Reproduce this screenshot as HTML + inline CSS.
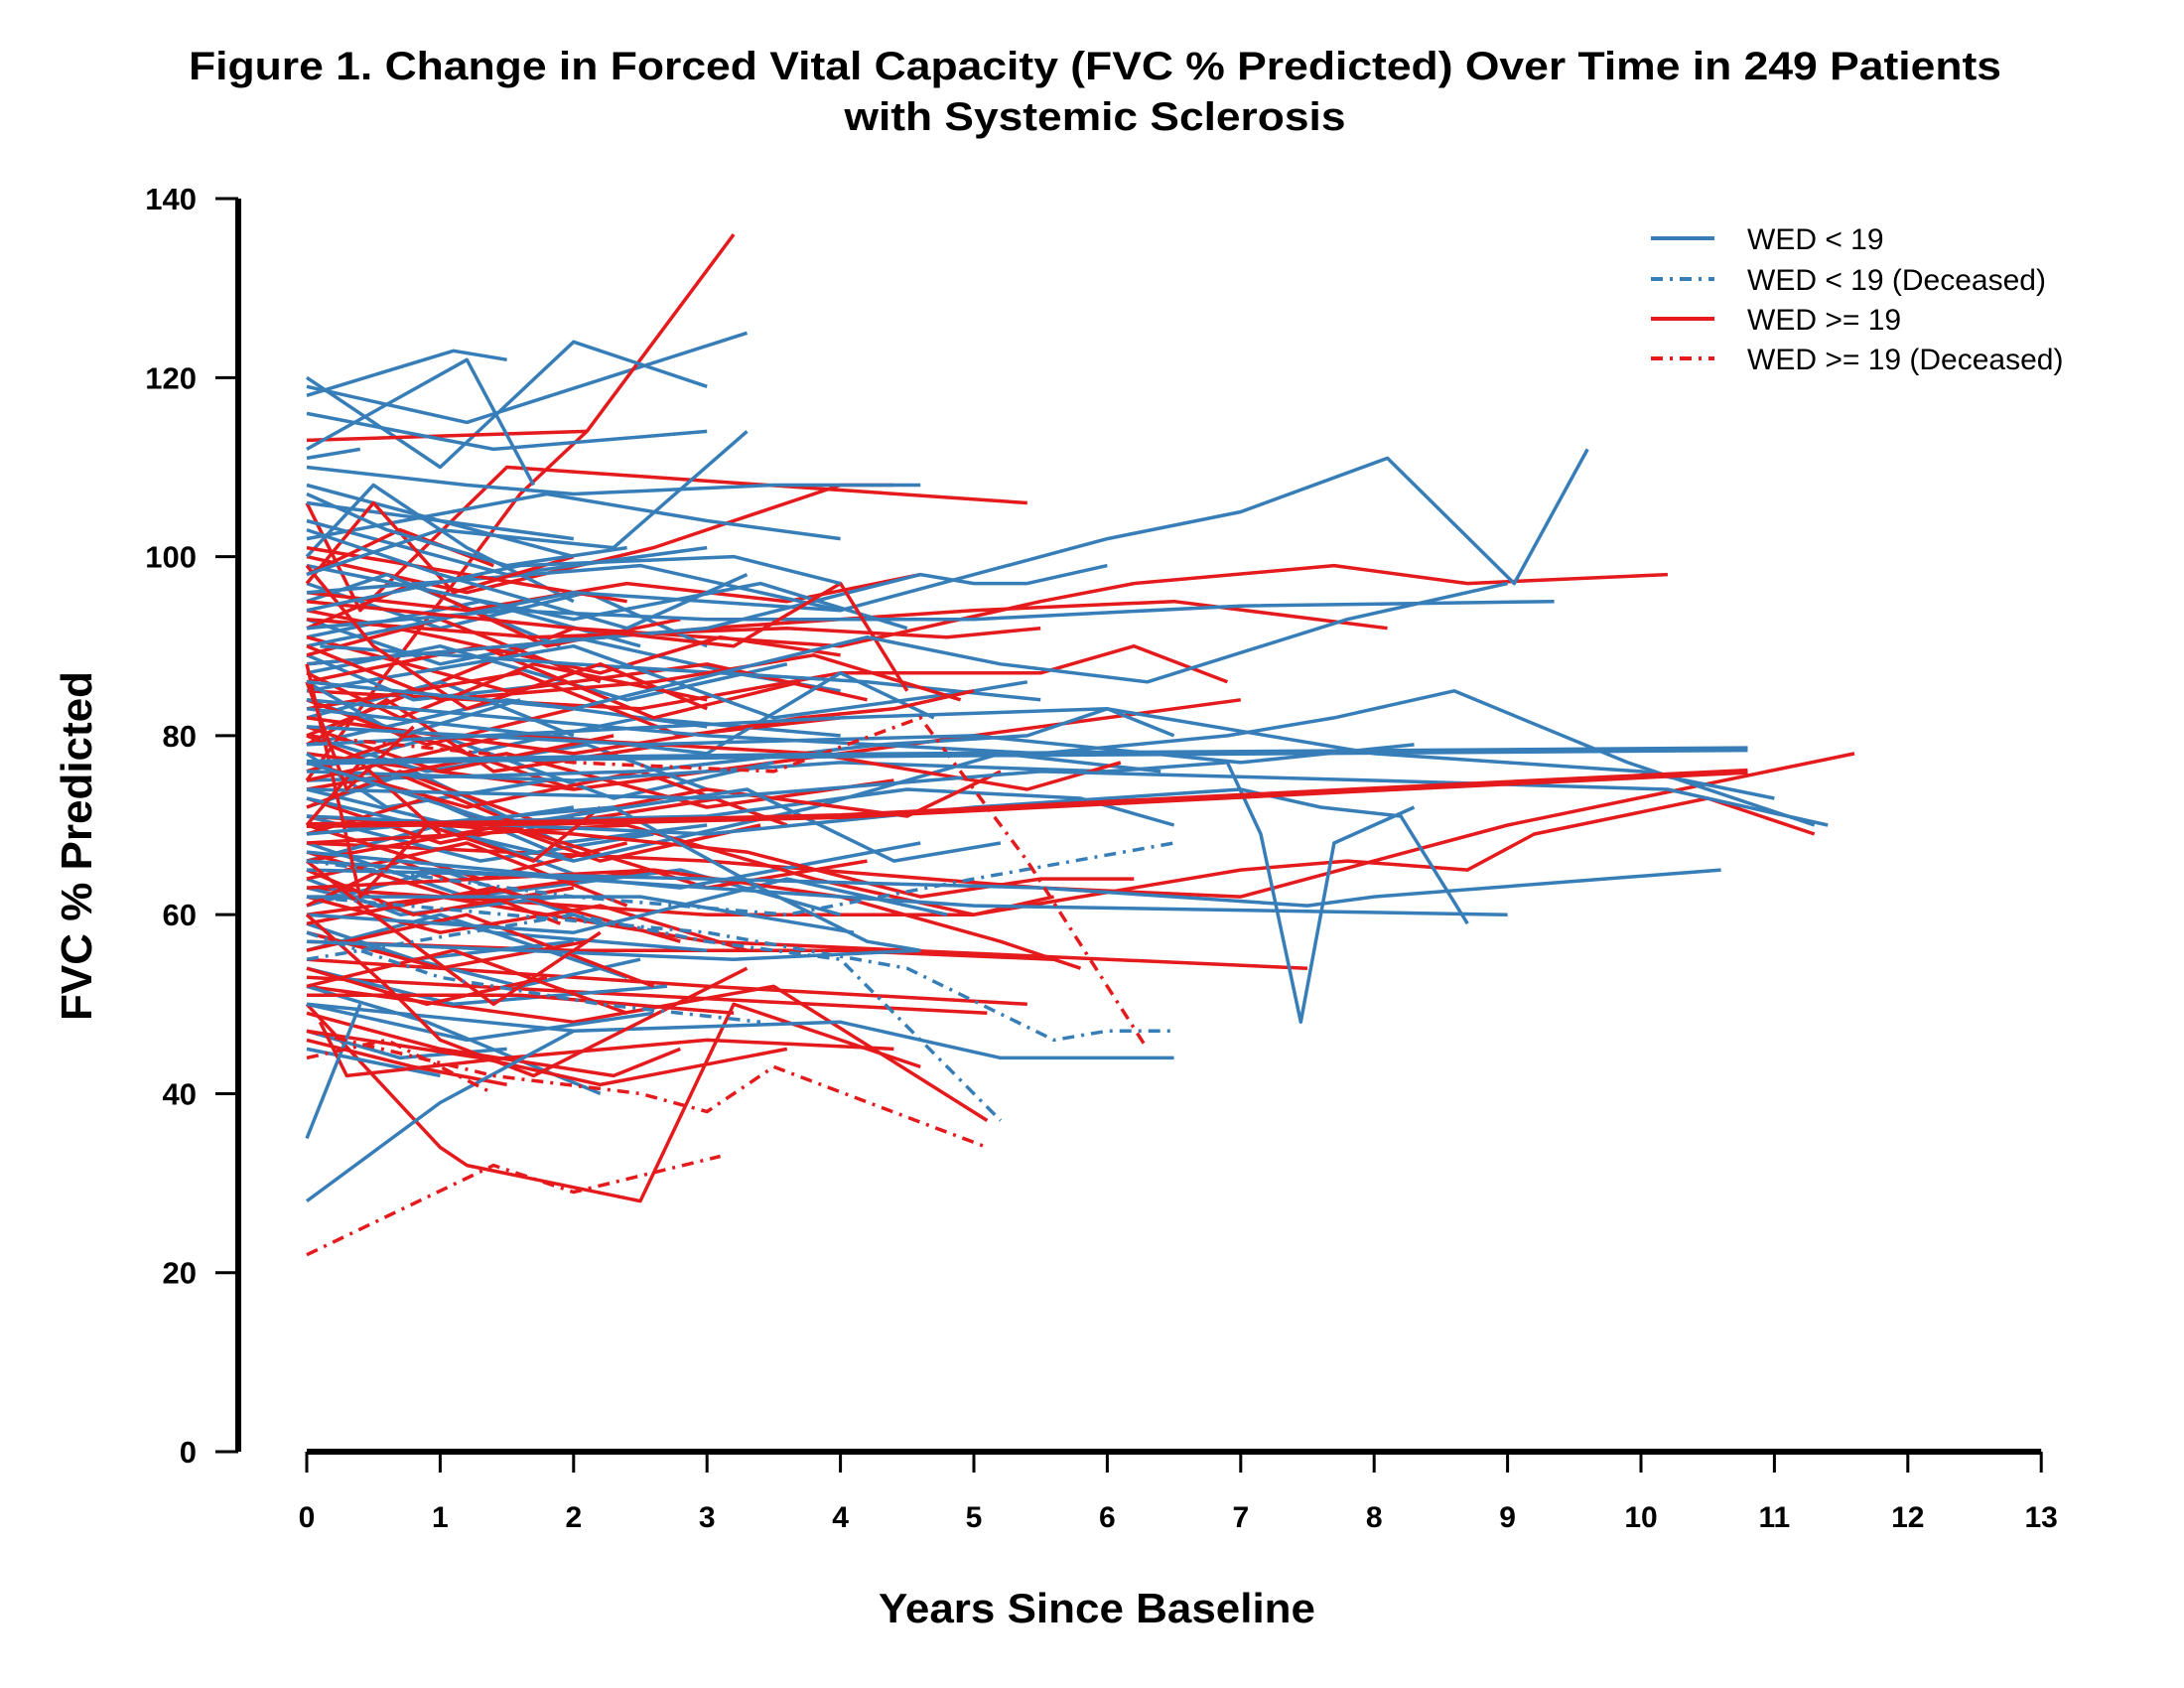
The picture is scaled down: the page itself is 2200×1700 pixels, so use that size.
<!DOCTYPE html>
<html><head><meta charset="utf-8"><style>
html,body{margin:0;padding:0;background:#fff;}
svg{display:block;font-family:"Liberation Sans",Arial,sans-serif;}
</style></head><body>
<svg id="chart" width="2200" height="1700" viewBox="0 0 2200 1700" xmlns="http://www.w3.org/2000/svg">
<rect width="2200" height="1700" fill="#fff"/>
<g font-weight="bold" font-size="40" text-anchor="middle" fill="#000">
<text x="1103" y="80" textLength="1826" lengthAdjust="spacingAndGlyphs">Figure 1. Change in Forced Vital Capacity (FVC % Predicted) Over Time in 249 Patients</text>
<text x="1103" y="131" textLength="505" lengthAdjust="spacingAndGlyphs">with Systemic Sclerosis</text>
</g>
<g id="plot"></g>
<g id="axes"></g>
<text transform="translate(92,852) rotate(-90)" text-anchor="middle" font-weight="bold" font-size="44" textLength="352" lengthAdjust="spacingAndGlyphs">FVC % Predicted</text>
<text x="1105" y="1634" text-anchor="middle" font-weight="bold" font-size="42" textLength="440" lengthAdjust="spacingAndGlyphs">Years Since Baseline</text>
<g font-size="30" fill="#000">
<g><line x1="1663" y1="240" x2="1727" y2="240" stroke="#377eb8" stroke-width="4"/><text x="1760" y="251">WED &lt; 19</text></g>
<g><line x1="1663" y1="281" x2="1727" y2="281" stroke="#377eb8" stroke-width="4" stroke-dasharray="12 7 3 7"/><text x="1760" y="292">WED &lt; 19 (Deceased)</text></g>
<g><line x1="1663" y1="321" x2="1727" y2="321" stroke="#e41a1c" stroke-width="4"/><text x="1760" y="332">WED &gt;= 19</text></g>
<g><line x1="1663" y1="361" x2="1727" y2="361" stroke="#e41a1c" stroke-width="4" stroke-dasharray="12 7 3 7"/><text x="1760" y="372">WED &gt;= 19 (Deceased)</text></g>
</g>
</svg>
<script>
const xTicks=[0,1,2,3,4,5,6,7,8,9,10,11,12,13];
const yTicks=[0,20,40,60,80,100,120,140];
// each series: flat [t,v,t,v,...]
const blueSeries=[
[0,119,1.2,115,3.3,125],[0,120,1,110,2,124,3,119],[0,111,0.4,112],[0,118,1.1,123,1.5,122],[0,112,1.2,122,1.7,108],
[0,106,1,104,2,100],[0,104,1.5,98,3,101],[0,100,0.5,108,1.2,101,2,95],[0,97,1,92,2.1,96,3,90],[0,95,0.6,98,1.9,90],
[0,93,1,88,2,91,3.2,87,4,85],[0,91,1.3,95,2.5,90],[0,89,0.8,84,2,86],[0,87,1,90,2.4,84,3.6,88],[0,86,0.7,80,1.6,84],
[0,84,1.2,78,2.5,82,4,80],[0,82,1,86,2,80],[0,80,0.9,76,2.1,79,3,74],[0,79,1.5,84,3,81],[0,78,0.6,72,1.8,75],
[0,76,1,80,2.3,73,3.5,77],[0,74,1.1,70,2,72],[0,72,0.8,76,1.9,68,3,70],[0,71,1.3,66,2.6,69],[0,69,0.9,73,2,66],
[0,68,1.2,62,2.8,65,4,60],[0,66,1,70,2.1,64],[0,64,0.7,60,1.9,62],[0,63,1.4,58,3,56],[0,61,1,65,2.2,59],
[0,59,0.8,55,2,57],[0,58,1.6,52,2.5,55],[0,56,1,60,2.4,53],[0,54,1.1,50,2.7,52],[0,52,0.9,48,2.2,40],
[0,50,1.2,46,2.6,49],[0,47,0.7,44,1.5,45],[0,45,1,42],[0,102,1.8,107,3,104,4,102],[0,108,1,104,2,102],
[0,116,1.4,112,3,114],[0,110,1.2,108,2,107,3.5,108,4.6,108],[0,99,2,93,3.4,97,4.5,92],[0,96,2.5,99,4,94],[0.1,90,2,88,4.2,86,5.5,84],
[0,85,2,90,3.5,82,5,85,5.4,86],[0,83,3,78,4,87,4.7,82],[0,75,2.5,76,4.3,79,5.4,80,6,83,6.5,80],[0,73,2,66,3.8,72,5.2,78,6.4,76],[0,70,3,71,4.5,74,5.8,73,6.5,70],
[0,67,2.8,63,4.6,68],[0,62,2.5,62,4.1,58],[0,57,3.2,55,4.6,56],[0,60,2,58,3.6,64,4.8,60],[0,88,3,92,4.6,98,5,97,5.4,97,6,99],
[0,90,2,96,4,94,6,102,7,105,8.1,111,9.05,97,9.6,112],[0,92,1.5,94,3,93,5,93,7,94.5,9.35,95],[0,84,3,80,5.5,78,6.9,80,7.7,82,8.6,85,9.9,77,11.3,70],
[0,76,2,75,4,77,6,76,6.9,77,7.15,69,7.45,48,7.7,68,8.3,72],[0,65,3,64,5.5,63,7.5,61,8,62,10.6,65],[0,71,3,69,5,72,7,74,7.6,72,8.2,71,8.7,59],
[0,66,2,64,5,61,9,60],[0,50,2,47,4,48,5.2,44,6.5,44],[0,81,2.5,79,5,80,7,77,8.3,79],[0,74,3,73,5.5,76,8,75,10.2,74,11.4,70],
[0,79,4,82,6,83,8,78,10,76,11,73],[0,28,1,39,2,47],[0,35,0.4,50],[0,86,2,83,4.2,91,5.2,88,6.3,86,7.8,93,9,97],[0,94,1.6,99,3.2,100,4,97],
[0,103,1,98,2.4,92,3.3,98],[0,77,1.5,70,3.3,74,4.4,66,5.2,68],[0,69,2.3,72,3.4,63,4.2,57,4.6,56],[0,98,1,103,2.3,101,3.3,114],[0,107,0.6,103,1.5,99,2.4,101]
];
const blueDead=[[0,55,2,60,3,57,4,55,5.2,37],[0,62,1.5,60,3,58,4.5,54,5.6,46,6,47,6.5,47],[0,66,2,62,3.6,60,5,64,6.5,68],[0,58,1,53,2.2,50,3.4,48]];
const redSeries=[
[0,75,1.6,107,2.1,114,3.2,136],[0,113,2.1,114],[0,106,0.4,94,1.5,110,5.4,106],[0,100,1.2,96,2.6,101,4,108,4.4,108],
[0,80,2,92,4,90,5.5,95,6.2,97,7.7,99,8.7,97,10.2,98],[0,88,3,92,5,94,6.5,95,8.1,92],[0,85,2.5,83,4,87,5.5,87,6.2,90,6.9,86],[0,78,2,74,3.5,77,7,84],
[0,63,3,60,5,60,7,65,7.8,66,8.7,65,9.2,69,10.5,73,11.3,69],[0,68,3,66,5.5,63,7,62,9,70,11.6,78],[0,60,1,62,3,57,7.5,54],[0,57,2,56,4,56,5.6,55],
[0,55,3,52,5.4,50],[0,53,2.5,51,5.1,49],[0,52,2,48,3.5,52,5.1,37],[0,50,1,34,1.2,32,2.5,28,3.2,50,4.6,43],[0,96,1.2,94,2.4,97,3.6,95,4.6,98],
[0,94,1,91,2.2,87,3.1,91,4,89],[0,92,0.8,97,1.8,90,2.8,93],[0,91,1.5,85,3,88,4.2,84],[0,89,1,93,2.2,86],[0,87,0.7,82,1.7,88,3,84],
[0,86,1.3,90,2.6,82,3.7,86],[0,84,0.9,79,2,83],[0,83,1.6,87,2.8,80,4,82],[0,81,1,76,2.3,80],[0,79,0.6,84,1.4,76,2.7,79],
[0,77,1.2,72,2.5,76,3.6,70],[0,76,0.8,80,2,74],[0,74,1.5,78,3,72,4.4,75],[0,73,1,68,2,71],[0,72,0.7,76,1.8,70,3.1,73],
[0,70,1.3,64,2.4,68],[0,69,0.9,73,2.2,66,3.4,70],[0,67,1.1,62,2.6,65],[0,66,1.5,70,3,63,4.2,66],[0,65,0.8,60,2,63],
[0,64,1.2,68,2.4,61],[0,62,1,58,2.2,61,3.3,56],[0,61,0.7,66,1.9,59],[0,59,1.4,63,2.8,57],[0,58,1,54,2.1,57],
[0,56,1.2,60,2.6,52],[0,54,0.9,50,1.8,53],[0,52,1.1,56,2.4,49],[0,51,1.6,51,3.2,49],[0,49,1,45,2.3,42,2.8,45],
[0,47,1.3,44,2.2,41,3.6,45],[0,46,0.8,43,1.5,41],[0.1,48,0.3,42,1.5,44,3,46,4.4,45],[0,98,0.7,103,1.4,99],[0,101,1.2,98,2.4,95],
[0,97,0.5,106,1.1,96,2,100],[0,93,1.7,91,3.6,92,4.8,91,5.5,92],[0,82,2,78,3.7,82,4.4,83,5,85],[0,80,1.6,70,3,74,4.5,71,5.2,76],
[0,71,2,69,3.3,67,4.6,62,5.5,64,6.2,64],[0,68,2.4,70,3.8,64,5,60,5.6,62],[0,63,2.6,65,4,62,5.2,57,5.8,54],[0,75,1.5,80,3.8,78,5.4,74,6.1,77],
[0,90,1,84,2.6,86,3.8,89,4.9,84],[0,95,2,92,3.2,90,4,97,4.5,85],[0,66,0.5,60,1.4,50,2.2,58],[0,60,0.6,52,1,46,1.7,42,3.3,54],
[0,88,0.4,62,0.9,70,1.7,66,2.2,72],[0,99,0.5,90,1.2,83,2.2,88,3,83],[0,70,0.4,77,1,69],[0,86,0.3,74,0.8,81]
];
const redDead=[[0,22,1.4,32,2,29,3.1,33],[0,47,1.4,42,2.5,40,3,38,3.5,43,5.1,34],[0,80,2,77,3.5,76,4.6,82,5.4,66,6.3,45],[0,44,0.6,46,1.4,40]];
const blueMean=[0,77,2,77.5,4,77.8,6,78,8,78.2,10.8,78.5];
const redMean=[0,70,2,70.3,4,71,6,72.5,8,74,10.8,76];

const NS="http://www.w3.org/2000/svg";
const X0=309,XW=134.4,Y0=1462,YU=9.014;
function sx(t){return X0+t*XW;}
function sy(v){return Y0-v*YU;}
const plot=document.getElementById('plot');
function pts(s){let a=[];for(let i=0;i<s.length;i+=2)a.push(sx(s[i]).toFixed(1)+','+sy(s[i+1]).toFixed(1));return a.join(' ');}
function draw(s,color,dash,w,name){
  const p=document.createElementNS(NS,'polyline');
  p.setAttribute('points',pts(s));p.setAttribute('fill','none');p.setAttribute('stroke',color);
  p.setAttribute('stroke-width',w);p.setAttribute('stroke-linejoin','round');
  if(dash)p.setAttribute('stroke-dasharray','12 7 3 7');
  
  
  plot.appendChild(p);
}
const BLUE="#377eb8",RED="#e41a1c";
const n=Math.max(blueSeries.length,redSeries.length);
for(let i=0;i<n;i++){
  if(blueSeries[i])draw(blueSeries[i],BLUE,false,3.5,'patient-line-wed-lt-19');
  if(redSeries[i])draw(redSeries[i],RED,false,3.5,'patient-line-wed-ge-19');
}
blueDead.forEach(s=>draw(s,BLUE,true,3.5,'patient-line-wed-lt-19-deceased'));
redDead.forEach(s=>draw(s,RED,true,3.5,'patient-line-wed-ge-19-deceased'));
draw(blueMean,BLUE,false,6,'mean-line-wed-lt-19');
draw(redMean,RED,false,6,'mean-line-wed-ge-19');

const axes=document.getElementById('axes');
function el(tag,attrs,text){const e=document.createElementNS(NS,tag);for(const k in attrs)e.setAttribute(k,attrs[k]);if(text!==undefined)e.textContent=text;axes.appendChild(e);return e;}
const ya=el('line',{x1:240,y1:sy(140),x2:240,y2:sy(0),stroke:'#000','stroke-width':6});


const xa=el('line',{x1:sx(0),y1:Y0,x2:sx(13),y2:Y0,stroke:'#000','stroke-width':6});


yTicks.forEach(v=>{
  const t=el('line',{x1:217,y1:sy(v),x2:240,y2:sy(v),stroke:'#000','stroke-width':3});
  
  
  const l=el('text',{x:198,y:sy(v)+11,'text-anchor':'end','font-weight':'bold','font-size':31},String(v));
  
  
});
xTicks.forEach(v=>{
  const t=el('line',{x1:sx(v),y1:Y0,x2:sx(v),y2:1483,stroke:'#000','stroke-width':3});
  
  
  const l=el('text',{x:sx(v),y:1538,'text-anchor':'middle','font-weight':'bold','font-size':30},String(v));
  
  
});
</script>
</body></html>
